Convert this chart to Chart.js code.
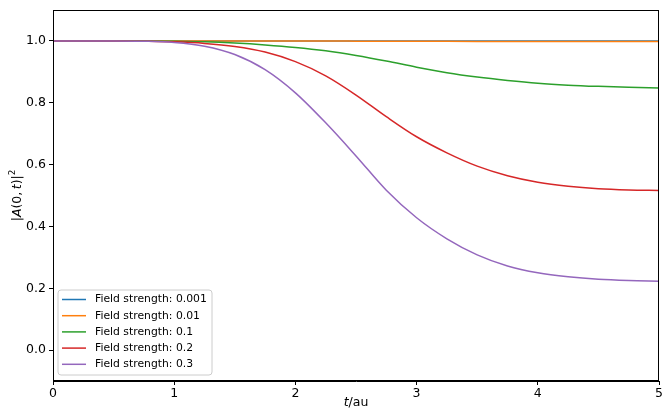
<!DOCTYPE html>
<html><head><meta charset="utf-8">
<style>html,body{margin:0;padding:0;background:#fff}#wrap{width:662px;height:413px}</style>
<script src="https://cdn.jsdelivr.net/npm/chart.js@4.4.1/dist/chart.umd.min.js"></script>
</head><body><div id="wrap"><canvas id="c" width="662" height="413"></canvas></div>
<script>
const tValues = [0, 0.25, 0.5, 0.75, 1.0, 1.25, 1.5, 1.75, 2.0, 2.25, 2.5, 2.75, 3.0, 3.25, 3.5, 3.75, 4.0, 4.25, 4.5, 4.75, 5.0];
const seriesLabels = ['Field strength: 0.001', 'Field strength: 0.01', 'Field strength: 0.1', 'Field strength: 0.2', 'Field strength: 0.3'];
const field0001 = [1,1,1,1,1,1,1,1,1,1,1,1,1,1,1,1,1,1,1,1,1];
const field001 = [1,1,1,1,1,0.99998,0.9999,0.9998,0.9997,0.9996,0.9993,0.999,0.9988,0.9986,0.9985,0.9984,0.9983,0.9983,0.9983,0.9983,0.9983];
const field01 = [1,1,1,1,0.999,0.997,0.993,0.987,0.979,0.968,0.953,0.935,0.915,0.897,0.883,0.872,0.863,0.857,0.853,0.85,0.848];
const field02 = [1,1,1,0.999,0.997,0.992,0.982,0.964,0.933,0.887,0.825,0.755,0.69,0.638,0.595,0.564,0.543,0.53,0.522,0.518,0.516];
const field03 = [1,1,1,0.999,0.995,0.983,0.956,0.907,0.832,0.735,0.628,0.517,0.428,0.36,0.308,0.272,0.25,0.237,0.229,0.225,0.223];
const xTicks = [0, 1, 2, 3, 4, 5];
const yTicks = [0.0, 0.2, 0.4, 0.6, 0.8, 1.0];
const colors = ['#1f77b4', '#ff7f0e', '#2ca02c', '#d62728', '#9467bd'];

const allSeries = [field0001, field001, field01, field02, field03];
const FONT = '"DejaVu Sans", sans-serif';

const datasets = allSeries.map((s, i) => ({
  label: seriesLabels[i],
  data: s.map((v, j) => ({x: tValues[j], y: v})),
  borderColor: colors[i],
  borderWidth: 1.5,
  pointRadius: 0,
  fill: false,
  cubicInterpolationMode: 'monotone',
  order: allSeries.length - 1 - i
}));

function drawMixed(ctx, segs, size) {
  let w = 0;
  segs.forEach(s => {
    const fs = s.sup ? size * 0.7 : size;
    ctx.font = (s.italic ? 'italic ' : '') + fs + 'px ' + FONT;
    s.w = ctx.measureText(s.t).width;
    w += s.w;
  });
  let x = -w / 2;
  segs.forEach(s => {
    const fs = s.sup ? size * 0.7 : size;
    ctx.font = (s.italic ? 'italic ' : '') + fs + 'px ' + FONT;
    ctx.fillText(s.t, x, s.sup ? -size * 0.42 : 0);
    x += s.w;
  });
}

const decor = {
  id: 'decor',
  afterDatasetsDraw(chart) {
    const ctx = chart.ctx, a = chart.chartArea;
    ctx.save();
    ctx.strokeStyle = '#000';
    ctx.lineWidth = 1;
    ctx.strokeRect(a.left + 0.5, a.top + 0.5, a.right - a.left - 1, a.bottom - a.top - 1);
    // legend
    const lx = 58, ly = 290, lw = 154, lh = 85, r = 3;
    ctx.beginPath();
    ctx.moveTo(lx + r, ly);
    ctx.arcTo(lx + lw, ly, lx + lw, ly + lh, r);
    ctx.arcTo(lx + lw, ly + lh, lx, ly + lh, r);
    ctx.arcTo(lx, ly + lh, lx, ly, r);
    ctx.arcTo(lx, ly, lx + lw, ly, r);
    ctx.closePath();
    ctx.fillStyle = 'rgba(255,255,255,0.8)';
    ctx.fill();
    ctx.strokeStyle = '#cccccc';
    ctx.lineWidth = 1;
    ctx.stroke();
    ctx.font = '10.8px ' + FONT;
    ctx.textBaseline = 'middle';
    ctx.textAlign = 'left';
    chart.data.datasets.forEach((d, i) => {
      const y = 299.5 + i * 16.2;
      ctx.strokeStyle = d.borderColor;
      ctx.lineWidth = 1.5;
      ctx.beginPath();
      ctx.moveTo(62, y);
      ctx.lineTo(86, y);
      ctx.stroke();
      ctx.fillStyle = '#000';
      ctx.fillText(d.label, 95, y);
    });
    // axis titles
    ctx.fillStyle = '#000';
    ctx.textBaseline = 'middle';
    ctx.textAlign = 'left';
    ctx.save();
    ctx.translate((a.left + a.right) / 2, 403);
    drawMixed(ctx, [{t: 't', italic: true}, {t: '/au'}], 12.5);
    ctx.restore();
    ctx.save();
    ctx.translate(18, (a.top + a.bottom) / 2);
    ctx.rotate(-Math.PI / 2);
    drawMixed(ctx, [{t: '|'}, {t: 'A', italic: true}, {t: '(0,\u2009'}, {t: 't', italic: true}, {t: ')|'}, {t: '2', sup: true}], 12.5);
    ctx.restore();
    ctx.restore();
  }
};

new Chart(document.getElementById('c'), {
  type: 'line',
  data: {datasets},
  options: {
    responsive: false,
    animation: false,
    layout: {padding: {top: 10, right: 3, left: 0, bottom: 0}},
    plugins: {legend: {display: false}, tooltip: {enabled: false}},
    scales: {
      x: {
        type: 'linear', min: 0, max: 5,
        afterFit(s) { s.height = 32; s.paddingLeft = 0; s.paddingRight = 0; },
        afterBuildTicks(s) { s.ticks = xTicks.map(v => ({value: v})); },
        ticks: {color: '#000', font: {family: FONT, size: 12.5}, padding: 1, maxRotation: 0, callback: v => String(v)},
        grid: {drawOnChartArea: false, color: '#000', tickLength: 4, tickWidth: 1},
        border: {display: true, color: '#000', width: 1}
      },
      y: {
        type: 'linear', min: -0.1, max: 1.1,
        afterFit(s) { s.width = 53; s.paddingTop = 0; s.paddingBottom = 0; },
        afterBuildTicks(s) { s.ticks = yTicks.map(v => ({value: v})); },
        ticks: {color: '#000', font: {family: FONT, size: 12.5}, padding: 3, callback: v => Number(v).toFixed(1)},
        grid: {drawOnChartArea: false, color: '#000', tickLength: 4, tickWidth: 1},
        border: {display: true, color: '#000', width: 1}
      }
    }
  },
  plugins: [decor]
});
</script>
</body></html>
